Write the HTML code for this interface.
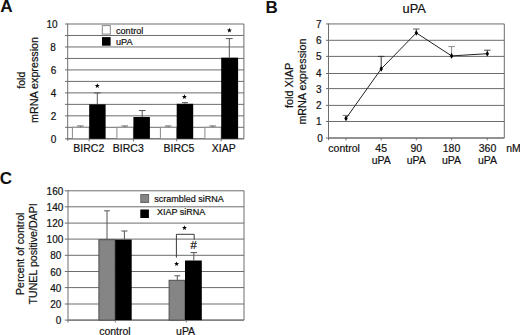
<!DOCTYPE html>
<html><head><meta charset="utf-8"><title>Figure</title>
<style>
html,body{margin:0;padding:0;background:#fff;}
body{width:520px;height:335px;overflow:hidden;}
svg{display:block;font-family:"Liberation Sans",sans-serif;fill:#111;}
text{fill:#111;stroke:#111;stroke-width:0.2px;}
</style></head>
<body>
<svg width="520" height="335" viewBox="0 0 520 335">
<rect x="0" y="0" width="520" height="335" fill="#fff"/>
<text x="0.20" y="12.20" font-size="17.2" text-anchor="start" font-weight="bold" style="stroke:none">A</text>
<text x="265.40" y="12.50" font-size="17.0" text-anchor="start" font-weight="bold" style="stroke:none">B</text>
<text x="-0.30" y="184.20" font-size="17.0" text-anchor="start" font-weight="bold" style="stroke:none">C</text>
<line x1="67.70" y1="138.80" x2="243.90" y2="138.80" stroke="#6c6c6c" stroke-width="1.0"/>
<line x1="65.00" y1="138.80" x2="67.70" y2="138.80" stroke="#6c6c6c" stroke-width="1.0"/>
<line x1="67.70" y1="127.32" x2="243.90" y2="127.32" stroke="#6c6c6c" stroke-width="1.0"/>
<line x1="65.00" y1="127.32" x2="67.70" y2="127.32" stroke="#6c6c6c" stroke-width="1.0"/>
<line x1="67.70" y1="115.84" x2="243.90" y2="115.84" stroke="#6c6c6c" stroke-width="1.0"/>
<line x1="65.00" y1="115.84" x2="67.70" y2="115.84" stroke="#6c6c6c" stroke-width="1.0"/>
<line x1="67.70" y1="104.36" x2="243.90" y2="104.36" stroke="#6c6c6c" stroke-width="1.0"/>
<line x1="65.00" y1="104.36" x2="67.70" y2="104.36" stroke="#6c6c6c" stroke-width="1.0"/>
<line x1="67.70" y1="92.88" x2="243.90" y2="92.88" stroke="#6c6c6c" stroke-width="1.0"/>
<line x1="65.00" y1="92.88" x2="67.70" y2="92.88" stroke="#6c6c6c" stroke-width="1.0"/>
<line x1="67.70" y1="81.40" x2="243.90" y2="81.40" stroke="#6c6c6c" stroke-width="1.0"/>
<line x1="65.00" y1="81.40" x2="67.70" y2="81.40" stroke="#6c6c6c" stroke-width="1.0"/>
<line x1="67.70" y1="69.92" x2="243.90" y2="69.92" stroke="#6c6c6c" stroke-width="1.0"/>
<line x1="65.00" y1="69.92" x2="67.70" y2="69.92" stroke="#6c6c6c" stroke-width="1.0"/>
<line x1="67.70" y1="58.44" x2="243.90" y2="58.44" stroke="#6c6c6c" stroke-width="1.0"/>
<line x1="65.00" y1="58.44" x2="67.70" y2="58.44" stroke="#6c6c6c" stroke-width="1.0"/>
<line x1="67.70" y1="46.96" x2="243.90" y2="46.96" stroke="#6c6c6c" stroke-width="1.0"/>
<line x1="65.00" y1="46.96" x2="67.70" y2="46.96" stroke="#6c6c6c" stroke-width="1.0"/>
<line x1="67.70" y1="35.48" x2="243.90" y2="35.48" stroke="#6c6c6c" stroke-width="1.0"/>
<line x1="65.00" y1="35.48" x2="67.70" y2="35.48" stroke="#6c6c6c" stroke-width="1.0"/>
<line x1="67.70" y1="24.00" x2="243.90" y2="24.00" stroke="#6c6c6c" stroke-width="1.0"/>
<line x1="65.00" y1="24.00" x2="67.70" y2="24.00" stroke="#6c6c6c" stroke-width="1.0"/>
<line x1="243.90" y1="24.00" x2="243.90" y2="138.80" stroke="#6c6c6c" stroke-width="1.0"/>
<line x1="67.70" y1="23.50" x2="67.70" y2="139.30" stroke="#6e6e6e" stroke-width="1.0"/>
<line x1="67.70" y1="138.80" x2="243.90" y2="138.80" stroke="#6e6e6e" stroke-width="1.0"/>
<text x="56.20" y="143.10" font-size="10" text-anchor="end" font-weight="normal">0</text>
<text x="56.20" y="120.14" font-size="10" text-anchor="end" font-weight="normal">2</text>
<text x="56.20" y="97.18" font-size="10" text-anchor="end" font-weight="normal">4</text>
<text x="56.20" y="74.22" font-size="10" text-anchor="end" font-weight="normal">6</text>
<text x="55.90" y="51.26" font-size="10" text-anchor="end" font-weight="normal">8</text>
<text x="57.60" y="28.30" font-size="10" text-anchor="end" font-weight="normal">10</text>
<rect x="72.40" y="127.32" width="16.80" height="11.48" fill="#fff" stroke="#8a8a8a" stroke-width="1"/>
<line x1="80.40" y1="127.32" x2="80.40" y2="125.94" stroke="#6a6a6a" stroke-width="1"/>
<line x1="77.15" y1="125.94" x2="83.65" y2="125.94" stroke="#6a6a6a" stroke-width="1"/>
<rect x="89.20" y="104.36" width="16.40" height="34.44" fill="#000"/>
<line x1="97.30" y1="104.36" x2="97.30" y2="92.88" stroke="#555" stroke-width="1"/>
<line x1="93.90" y1="92.88" x2="100.70" y2="92.88" stroke="#555" stroke-width="1"/>
<rect x="116.90" y="127.32" width="16.50" height="11.48" fill="#fff" stroke="#8a8a8a" stroke-width="1"/>
<line x1="124.75" y1="127.32" x2="124.75" y2="125.94" stroke="#6a6a6a" stroke-width="1"/>
<line x1="121.50" y1="125.94" x2="128.00" y2="125.94" stroke="#6a6a6a" stroke-width="1"/>
<rect x="133.40" y="116.99" width="16.50" height="21.81" fill="#000"/>
<line x1="142.20" y1="116.99" x2="142.20" y2="110.56" stroke="#555" stroke-width="1"/>
<line x1="138.80" y1="110.56" x2="145.60" y2="110.56" stroke="#555" stroke-width="1"/>
<rect x="160.40" y="127.32" width="16.30" height="11.48" fill="#fff" stroke="#8a8a8a" stroke-width="1"/>
<line x1="168.15" y1="127.32" x2="168.15" y2="125.94" stroke="#6a6a6a" stroke-width="1"/>
<line x1="164.90" y1="125.94" x2="171.40" y2="125.94" stroke="#6a6a6a" stroke-width="1"/>
<rect x="176.70" y="103.79" width="16.50" height="35.01" fill="#000"/>
<line x1="185.00" y1="103.79" x2="185.00" y2="102.64" stroke="#555" stroke-width="1"/>
<line x1="182.00" y1="102.64" x2="188.00" y2="102.64" stroke="#555" stroke-width="1"/>
<rect x="204.90" y="127.32" width="16.30" height="11.48" fill="#fff" stroke="#8a8a8a" stroke-width="1"/>
<line x1="212.65" y1="127.32" x2="212.65" y2="125.94" stroke="#6a6a6a" stroke-width="1"/>
<line x1="209.40" y1="125.94" x2="215.90" y2="125.94" stroke="#6a6a6a" stroke-width="1"/>
<rect x="221.20" y="57.64" width="16.90" height="81.16" fill="#000"/>
<line x1="229.30" y1="57.64" x2="229.30" y2="38.58" stroke="#555" stroke-width="1"/>
<line x1="225.90" y1="38.58" x2="232.70" y2="38.58" stroke="#555" stroke-width="1"/>
<line x1="89.20" y1="138.80" x2="89.20" y2="141.30" stroke="#6e6e6e" stroke-width="1.0"/>
<line x1="133.40" y1="138.80" x2="133.40" y2="141.30" stroke="#6e6e6e" stroke-width="1.0"/>
<line x1="176.70" y1="138.80" x2="176.70" y2="141.30" stroke="#6e6e6e" stroke-width="1.0"/>
<line x1="221.20" y1="138.80" x2="221.20" y2="141.30" stroke="#6e6e6e" stroke-width="1.0"/>
<line x1="67.70" y1="138.80" x2="67.70" y2="140.80" stroke="#6e6e6e" stroke-width="1.0"/>
<polygon points="97.30,83.20 97.94,84.92 99.77,85.00 98.34,86.14 98.83,87.90 97.30,86.89 95.77,87.90 96.26,86.14 94.83,85.00 96.66,84.92" fill="#000"/>
<polygon points="184.40,94.30 185.04,96.02 186.87,96.10 185.44,97.24 185.93,99.00 184.40,97.99 182.87,99.00 183.36,97.24 181.93,96.10 183.76,96.02" fill="#000"/>
<polygon points="229.40,27.75 230.04,29.47 231.87,29.55 230.44,30.69 230.93,32.45 229.40,31.44 227.87,32.45 228.36,30.69 226.93,29.55 228.76,29.47" fill="#000"/>
<rect x="102.30" y="25.60" width="8.00" height="8.50" fill="#fff" stroke="#888" stroke-width="1"/>
<rect x="102.00" y="37.10" width="8.60" height="8.60" fill="#000"/>
<text x="116.00" y="33.80" font-size="9.1" text-anchor="start" font-weight="normal">control</text>
<text x="116.00" y="45.00" font-size="9.2" text-anchor="start" font-weight="normal">uPA</text>
<text x="88.80" y="151.60" font-size="10.5" text-anchor="middle" font-weight="normal">BIRC2</text>
<text x="128.30" y="151.60" font-size="10.5" text-anchor="middle" font-weight="normal">BIRC3</text>
<text x="179.00" y="151.60" font-size="10.5" text-anchor="middle" font-weight="normal">BIRC5</text>
<text x="223.80" y="151.60" font-size="10.5" text-anchor="middle" font-weight="normal">XIAP</text>
<text transform="translate(24.8,80.2) rotate(-90)" font-size="10.5" text-anchor="middle">fold</text>
<text transform="translate(37.7,80.0) rotate(-90)" font-size="10.78" text-anchor="middle">mRNA expression</text>
<line x1="328.50" y1="138.00" x2="504.30" y2="138.00" stroke="#6c6c6c" stroke-width="1.0"/>
<line x1="326.00" y1="138.00" x2="328.50" y2="138.00" stroke="#6c6c6c" stroke-width="1.0"/>
<text x="322.80" y="141.90" font-size="10" text-anchor="end" font-weight="normal">0</text>
<line x1="328.50" y1="121.50" x2="504.30" y2="121.50" stroke="#6c6c6c" stroke-width="1.0"/>
<line x1="326.00" y1="121.50" x2="328.50" y2="121.50" stroke="#6c6c6c" stroke-width="1.0"/>
<text x="321.60" y="125.40" font-size="10" text-anchor="end" font-weight="normal">1</text>
<line x1="328.50" y1="105.40" x2="504.30" y2="105.40" stroke="#6c6c6c" stroke-width="1.0"/>
<line x1="326.00" y1="105.40" x2="328.50" y2="105.40" stroke="#6c6c6c" stroke-width="1.0"/>
<text x="321.60" y="109.30" font-size="10" text-anchor="end" font-weight="normal">2</text>
<line x1="328.50" y1="88.60" x2="504.30" y2="88.60" stroke="#6c6c6c" stroke-width="1.0"/>
<line x1="326.00" y1="88.60" x2="328.50" y2="88.60" stroke="#6c6c6c" stroke-width="1.0"/>
<text x="321.60" y="92.50" font-size="10" text-anchor="end" font-weight="normal">3</text>
<line x1="328.50" y1="73.50" x2="504.30" y2="73.50" stroke="#6c6c6c" stroke-width="1.0"/>
<line x1="326.00" y1="73.50" x2="328.50" y2="73.50" stroke="#6c6c6c" stroke-width="1.0"/>
<text x="321.60" y="77.40" font-size="10" text-anchor="end" font-weight="normal">4</text>
<line x1="328.50" y1="56.40" x2="504.30" y2="56.40" stroke="#6c6c6c" stroke-width="1.0"/>
<line x1="326.00" y1="56.40" x2="328.50" y2="56.40" stroke="#6c6c6c" stroke-width="1.0"/>
<text x="321.60" y="60.30" font-size="10" text-anchor="end" font-weight="normal">5</text>
<line x1="328.50" y1="40.30" x2="504.30" y2="40.30" stroke="#6c6c6c" stroke-width="1.0"/>
<line x1="326.00" y1="40.30" x2="328.50" y2="40.30" stroke="#6c6c6c" stroke-width="1.0"/>
<text x="321.60" y="44.20" font-size="10" text-anchor="end" font-weight="normal">6</text>
<line x1="328.50" y1="23.95" x2="504.30" y2="23.95" stroke="#6c6c6c" stroke-width="1.0"/>
<line x1="326.00" y1="23.95" x2="328.50" y2="23.95" stroke="#6c6c6c" stroke-width="1.0"/>
<text x="321.60" y="27.85" font-size="10" text-anchor="end" font-weight="normal">7</text>
<line x1="504.30" y1="23.95" x2="504.30" y2="138.00" stroke="#6c6c6c" stroke-width="1.0"/>
<line x1="328.50" y1="23.45" x2="328.50" y2="140.20" stroke="#6e6e6e" stroke-width="1.0"/>
<line x1="328.50" y1="138.00" x2="504.30" y2="138.00" stroke="#6e6e6e" stroke-width="1.0"/>
<line x1="346.00" y1="138.00" x2="346.00" y2="140.30" stroke="#6e6e6e" stroke-width="1.0"/>
<line x1="381.20" y1="138.00" x2="381.20" y2="140.30" stroke="#6e6e6e" stroke-width="1.0"/>
<line x1="416.30" y1="138.00" x2="416.30" y2="140.30" stroke="#6e6e6e" stroke-width="1.0"/>
<line x1="451.60" y1="138.00" x2="451.60" y2="140.30" stroke="#6e6e6e" stroke-width="1.0"/>
<line x1="487.30" y1="138.00" x2="487.30" y2="140.30" stroke="#6e6e6e" stroke-width="1.0"/>
<line x1="346.00" y1="118.40" x2="346.00" y2="115.40" stroke="#777" stroke-width="1"/>
<line x1="342.75" y1="115.40" x2="349.25" y2="115.40" stroke="#777" stroke-width="1"/>
<line x1="381.20" y1="68.90" x2="381.20" y2="56.40" stroke="#333" stroke-width="1"/>
<line x1="377.95" y1="56.40" x2="384.45" y2="56.40" stroke="#333" stroke-width="1"/>
<line x1="416.30" y1="32.90" x2="416.30" y2="29.00" stroke="#555" stroke-width="1"/>
<line x1="413.05" y1="29.00" x2="419.55" y2="29.00" stroke="#555" stroke-width="1"/>
<line x1="451.60" y1="55.90" x2="451.60" y2="46.60" stroke="#8a8a8a" stroke-width="1"/>
<line x1="448.35" y1="46.60" x2="454.85" y2="46.60" stroke="#8a8a8a" stroke-width="1"/>
<line x1="487.30" y1="53.70" x2="487.30" y2="50.20" stroke="#444" stroke-width="1"/>
<line x1="484.05" y1="50.20" x2="490.55" y2="50.20" stroke="#444" stroke-width="1"/>
<polyline points="346.00,118.40 381.20,68.90 416.30,32.90 451.60,55.90 487.30,53.70" fill="none" stroke="#222" stroke-width="1"/>
<polygon points="346.00,115.60 347.70,118.40 346.00,121.20 344.30,118.40" fill="#000"/>
<polygon points="381.20,66.10 382.90,68.90 381.20,71.70 379.50,68.90" fill="#000"/>
<polygon points="416.30,30.10 418.00,32.90 416.30,35.70 414.60,32.90" fill="#000"/>
<polygon points="451.60,53.10 453.30,55.90 451.60,58.70 449.90,55.90" fill="#000"/>
<polygon points="487.30,50.90 489.00,53.70 487.30,56.50 485.60,53.70" fill="#000"/>
<text x="414.20" y="13.00" font-size="12.8" text-anchor="middle" font-weight="normal">uPA</text>
<text x="344.10" y="152.00" font-size="10.5" text-anchor="middle" font-weight="normal">control</text>
<text x="381.20" y="152.00" font-size="10.5" text-anchor="middle" font-weight="normal">45</text>
<text x="381.20" y="164.10" font-size="10.5" text-anchor="middle" font-weight="normal">uPA</text>
<text x="416.30" y="152.00" font-size="10.5" text-anchor="middle" font-weight="normal">90</text>
<text x="416.30" y="164.10" font-size="10.5" text-anchor="middle" font-weight="normal">uPA</text>
<text x="451.50" y="152.00" font-size="10.5" text-anchor="middle" font-weight="normal">180</text>
<text x="451.50" y="164.10" font-size="10.5" text-anchor="middle" font-weight="normal">uPA</text>
<text x="487.50" y="152.00" font-size="10.5" text-anchor="middle" font-weight="normal">360</text>
<text x="487.50" y="164.10" font-size="10.5" text-anchor="middle" font-weight="normal">uPA</text>
<text x="506.20" y="152.00" font-size="10.5" text-anchor="start" font-weight="normal">nM</text>
<text transform="translate(293.4,85.4) rotate(-90)" font-size="10.9" text-anchor="middle">fold XIAP</text>
<text transform="translate(305.9,81.6) rotate(-90)" font-size="10.75" text-anchor="middle">mRNA expression</text>
<line x1="68.00" y1="320.10" x2="244.00" y2="320.10" stroke="#6c6c6c" stroke-width="1.0"/>
<line x1="64.80" y1="320.10" x2="68.00" y2="320.10" stroke="#6c6c6c" stroke-width="1.0"/>
<text x="61.40" y="324.20" font-size="10" text-anchor="end" font-weight="normal">0</text>
<line x1="68.00" y1="304.00" x2="244.00" y2="304.00" stroke="#6c6c6c" stroke-width="1.0"/>
<line x1="64.80" y1="304.00" x2="68.00" y2="304.00" stroke="#6c6c6c" stroke-width="1.0"/>
<text x="61.40" y="308.10" font-size="10" text-anchor="end" font-weight="normal">20</text>
<line x1="68.00" y1="287.60" x2="244.00" y2="287.60" stroke="#6c6c6c" stroke-width="1.0"/>
<line x1="64.80" y1="287.60" x2="68.00" y2="287.60" stroke="#6c6c6c" stroke-width="1.0"/>
<text x="61.40" y="291.70" font-size="10" text-anchor="end" font-weight="normal">40</text>
<line x1="68.00" y1="271.50" x2="244.00" y2="271.50" stroke="#6c6c6c" stroke-width="1.0"/>
<line x1="64.80" y1="271.50" x2="68.00" y2="271.50" stroke="#6c6c6c" stroke-width="1.0"/>
<text x="61.40" y="275.60" font-size="10" text-anchor="end" font-weight="normal">60</text>
<line x1="68.00" y1="255.30" x2="244.00" y2="255.30" stroke="#6c6c6c" stroke-width="1.0"/>
<line x1="64.80" y1="255.30" x2="68.00" y2="255.30" stroke="#6c6c6c" stroke-width="1.0"/>
<text x="61.40" y="259.40" font-size="10" text-anchor="end" font-weight="normal">80</text>
<line x1="68.00" y1="239.10" x2="244.00" y2="239.10" stroke="#6c6c6c" stroke-width="1.0"/>
<line x1="64.80" y1="239.10" x2="68.00" y2="239.10" stroke="#6c6c6c" stroke-width="1.0"/>
<text x="63.30" y="243.20" font-size="10" text-anchor="end" font-weight="normal">100</text>
<line x1="68.00" y1="223.10" x2="244.00" y2="223.10" stroke="#6c6c6c" stroke-width="1.0"/>
<line x1="64.80" y1="223.10" x2="68.00" y2="223.10" stroke="#6c6c6c" stroke-width="1.0"/>
<text x="63.30" y="227.20" font-size="10" text-anchor="end" font-weight="normal">120</text>
<line x1="68.00" y1="206.80" x2="244.00" y2="206.80" stroke="#6c6c6c" stroke-width="1.0"/>
<line x1="64.80" y1="206.80" x2="68.00" y2="206.80" stroke="#6c6c6c" stroke-width="1.0"/>
<text x="63.30" y="210.90" font-size="10" text-anchor="end" font-weight="normal">140</text>
<line x1="68.00" y1="190.80" x2="244.00" y2="190.80" stroke="#6c6c6c" stroke-width="1.0"/>
<line x1="64.80" y1="190.80" x2="68.00" y2="190.80" stroke="#6c6c6c" stroke-width="1.0"/>
<text x="63.30" y="194.90" font-size="10" text-anchor="end" font-weight="normal">160</text>
<line x1="244.00" y1="190.80" x2="244.00" y2="320.10" stroke="#6c6c6c" stroke-width="1.0"/>
<line x1="68.00" y1="190.30" x2="68.00" y2="322.60" stroke="#6e6e6e" stroke-width="1.0"/>
<line x1="68.00" y1="320.10" x2="244.00" y2="320.10" stroke="#6e6e6e" stroke-width="1.0"/>
<rect x="98.90" y="239.70" width="16.20" height="80.40" fill="#858585" stroke="#4e4e4e" stroke-width="1"/>
<rect x="115.20" y="239.60" width="16.50" height="80.50" fill="#000"/>
<line x1="107.00" y1="239.60" x2="107.00" y2="210.80" stroke="#555" stroke-width="1"/>
<line x1="104.10" y1="210.80" x2="109.90" y2="210.80" stroke="#555" stroke-width="1"/>
<line x1="124.40" y1="239.60" x2="124.40" y2="231.00" stroke="#555" stroke-width="1"/>
<line x1="121.30" y1="231.00" x2="127.50" y2="231.00" stroke="#555" stroke-width="1"/>
<rect x="169.10" y="280.30" width="15.90" height="39.80" fill="#858585" stroke="#4e4e4e" stroke-width="1"/>
<rect x="185.00" y="260.50" width="16.80" height="59.60" fill="#000"/>
<line x1="177.30" y1="280.30" x2="177.30" y2="275.80" stroke="#555" stroke-width="1"/>
<line x1="174.40" y1="275.80" x2="180.20" y2="275.80" stroke="#555" stroke-width="1"/>
<line x1="193.80" y1="260.50" x2="193.80" y2="252.60" stroke="#555" stroke-width="1"/>
<line x1="190.50" y1="252.60" x2="197.10" y2="252.60" stroke="#555" stroke-width="1"/>
<line x1="115.30" y1="320.10" x2="115.30" y2="322.40" stroke="#6e6e6e" stroke-width="1.0"/>
<line x1="186.30" y1="320.10" x2="186.30" y2="322.40" stroke="#6e6e6e" stroke-width="1.0"/>
<polyline points="176.4,257.6 176.4,234.3 194.2,234.3 194.2,239.6" fill="none" stroke="#3a3a3a" stroke-width="1"/>
<polygon points="184.50,225.30 185.14,227.02 186.97,227.10 185.54,228.24 186.03,230.00 184.50,228.99 182.97,230.00 183.46,228.24 182.03,227.10 183.86,227.02" fill="#000"/>
<polygon points="176.60,261.40 177.24,263.12 179.07,263.20 177.64,264.34 178.13,266.10 176.60,265.09 175.07,266.10 175.56,264.34 174.13,263.20 175.96,263.12" fill="#000"/>
<text x="193.60" y="249.20" font-size="11.2" text-anchor="middle" font-weight="normal">#</text>
<rect x="140.80" y="194.50" width="7.80" height="8.00" fill="#858585" stroke="#666" stroke-width="1"/>
<rect x="140.30" y="209.50" width="8.60" height="8.50" fill="#000"/>
<text x="154.30" y="201.80" font-size="9" text-anchor="start" font-weight="normal">scrambled siRNA</text>
<text x="157.00" y="215.30" font-size="9" text-anchor="start" font-weight="normal">XIAP siRNA</text>
<text x="114.90" y="334.90" font-size="10.5" text-anchor="middle" font-weight="normal">control</text>
<text x="185.60" y="334.90" font-size="10.5" text-anchor="middle" font-weight="normal">uPA</text>
<text transform="translate(24.0,253.8) rotate(-90)" font-size="10.5" text-anchor="middle">Percent of control</text>
<text transform="translate(36.5,253.9) rotate(-90)" font-size="10.65" text-anchor="middle">TUNEL positive/DAPI</text>
</svg>
</body></html>
